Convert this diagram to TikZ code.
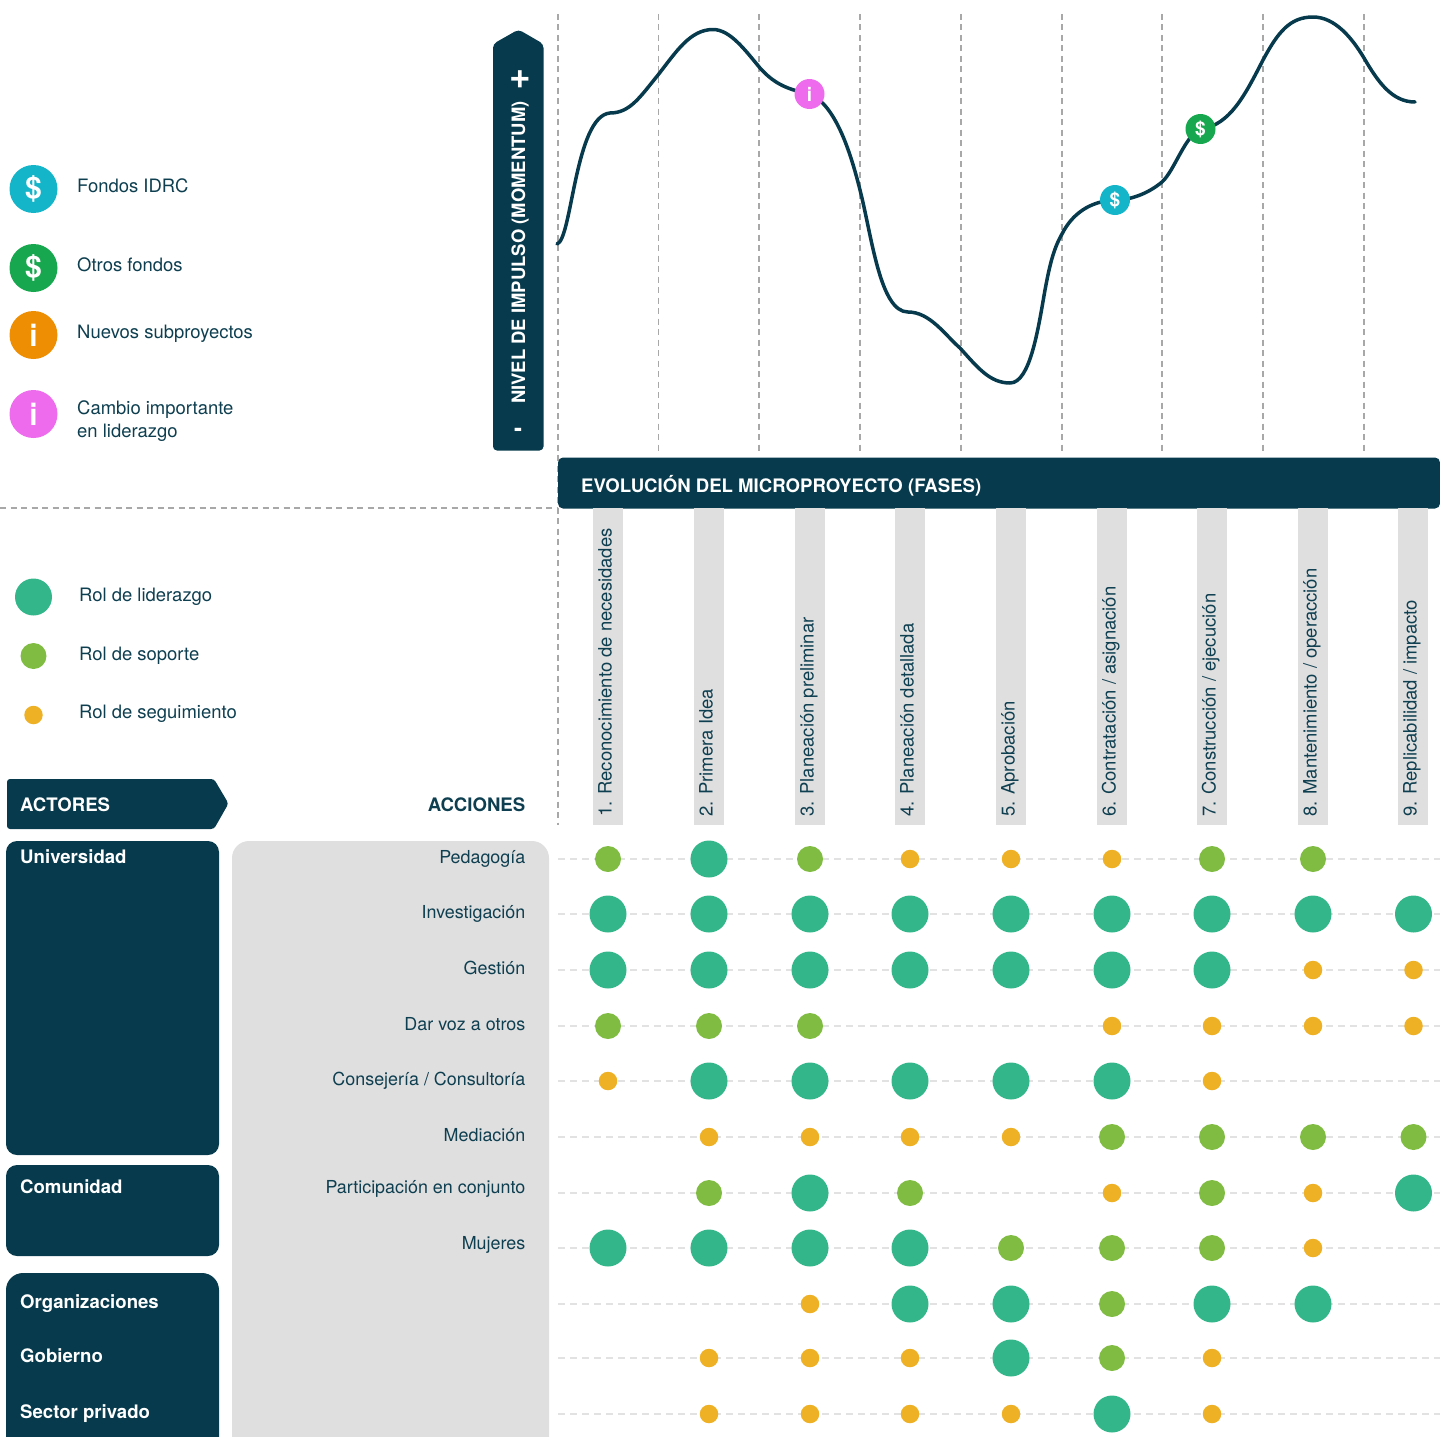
\documentclass[tikz,border=0pt]{standalone}
\usepackage{fontspec}
\setmainfont{TeX Gyre Heros}
\usetikzlibrary{shapes.geometric}
\definecolor{navy}{HTML}{063A4C}
\definecolor{ink}{HTML}{0E3F50}
\definecolor{pale}{HTML}{E0DFE0}
\definecolor{rowdash}{HTML}{E2E2E2}
\definecolor{phasedash}{HTML}{A8A8A8}
\definecolor{cyanfund}{HTML}{14B5C9}
\definecolor{greenfund}{HTML}{17A84F}
\definecolor{orangenew}{HTML}{EE8E02}
\definecolor{pinkchange}{HTML}{EE6BEE}
\definecolor{lead}{HTML}{32B68A}
\definecolor{support}{HTML}{7FBC41}
\definecolor{follow}{HTML}{EEB024}
\tikzset{
  body/.style={font=\fontsize{18.45}{23}\selectfont,text=ink,inner sep=0pt},
  bodyleft/.style={body,anchor=base west,align=left},
  bodyright/.style={body,anchor=base east},
  rowlabel/.style={body,anchor=base east,font=\fontsize{17.9}{22}\selectfont},
  head/.style={font=\fontsize{18.6}{22}\selectfont\bfseries,text=white,inner sep=0pt,anchor=base west},
  phaselabel/.style={body,rotate=90,anchor=base west},
  panel/.style={fill=navy,draw=none,inner sep=0pt,rounded corners=11pt},
  greypanel/.style={fill=pale,draw=none,inner sep=0pt,rounded corners=17pt},
  strip/.style={fill=pale,draw=none,inner sep=0pt,minimum width=30pt,minimum height=317pt},
  bigicon/.style={circle,draw=none,inner sep=0pt,minimum size=48pt,text=white,font=\fontsize{30}{30}\selectfont\bfseries},
  smallicon/.style={circle,draw=none,inner sep=0pt,minimum size=30pt,text=white,font=\fontsize{19}{19}\selectfont\bfseries},
  L/.style={circle,fill=lead,draw=none,inner sep=0pt,minimum size=37pt},
  M/.style={circle,fill=support,draw=none,inner sep=0pt,minimum size=26pt},
  S/.style={circle,fill=follow,draw=none,inner sep=0pt,minimum size=18.5pt},
  phaseline/.style={draw=phasedash,line width=1.7pt,dash pattern=on 6pt off 4.5pt},
  rowline/.style={draw=rowdash,line width=2pt,dash pattern=on 6.5pt off 5.5pt},
}
\begin{document}
\begin{tikzpicture}[x=1pt,y=-1pt]
\useasboundingbox (0,0) rectangle (1440,1437);
\clip (0,0) rectangle (1440,1437);
% guide lines
\foreach \n/\x/\yb in {a/558/825,b/658.5/452,c/759/452,d/860/452,e/961/452,f/1062/452,g/1162/452,h/1263/452,i/1364/452}{
  \coordinate (vt\n) at (\x,14);
  \coordinate (vb\n) at (\x,\yb);
  \draw[phaseline] (vt\n) -- (vb\n);
}
\coordinate (hl) at (0,508);
\coordinate (hr) at (558,508);
\draw[phaseline] (hl) -- (hr);
% momentum curve
\draw[navy,line width=3.5pt,line cap=round,line join=round]
 (557,244) .. controls (572,240) and (575,116) .. (610,113)
 .. controls (630,113) and (640,97) .. (658,75)
 .. controls (676,52) and (690,29.5) .. (713,29.5)
 .. controls (730,29.5) and (745,50) .. (760,68)
 .. controls (775,85) and (790,90) .. (810,94)
 .. controls (835,105) and (850,150) .. (860,190)
 .. controls (872,237) and (880,312) .. (908,312)
 .. controls (930,312) and (945,335) .. (960,348)
 .. controls (978,368) and (990,383) .. (1010,383)
 .. controls (1030,383) and (1038,330) .. (1045,290)
 .. controls (1050,263) and (1054,248) .. (1062,234)
 .. controls (1072,214) and (1090,201) .. (1115,200)
 .. controls (1133,200) and (1150,192) .. (1162,182)
 .. controls (1175,170) and (1185,135) .. (1201,129)
 .. controls (1230,125) and (1245,95) .. (1263,60)
 .. controls (1278,32) and (1290,17) .. (1313,17)
 .. controls (1335,17) and (1352,38) .. (1364,58)
 .. controls (1378,82) and (1392,102) .. (1415,102);
\node[smallicon,fill=pinkchange] (c1) at (809.5,94) {i};
\node[smallicon,fill=cyanfund] (c2) at (1115,200) {\$};
\node[smallicon,fill=greenfund] (c3) at (1200.5,129) {\$};
% momentum arrow
\fill[navy,rounded corners=4pt] (493,450.5) -- (493,44) -- (518.5,29.5) -- (543.5,44) -- (543.5,450.5) -- cycle;
\node[head,rotate=90,font=\fontsize{18.45}{22}\selectfont\bfseries] (mom) at (525,404) {NIVEL DE IMPULSO (MOMENTUM)};
\node[text=white,inner sep=0pt,font=\fontsize{37}{37}\selectfont\bfseries] (plus) at (520,79.5) {+};
\node[text=white,inner sep=0pt,font=\fontsize{24}{24}\selectfont\bfseries] (minus) at (518,432) {-};
% phases bar
\node[fill=navy,draw=none,inner sep=0pt,rounded corners=5pt,minimum width=882pt,minimum height=51pt] (bar) at (999,483) {};
\node[head] (bartext) at (581,492) {EVOLUCIÓN DEL MICROPROYECTO (FASES)};
% strips and labels
\foreach \n/\x/\t in {1/608/{1. Reconocimiento de necesidades},2/709/{2. Primera Idea},3/810/{3. Planeación preliminar},4/910/{4. Planeación detallada},5/1011/{5. Aprobación},6/1112/{6. Contratación / asignación},7/1212/{7. Construcción / ejecución},8/1313/{8. Mantenimiento / operacción},9/1413/{9. Replicabilidad / impacto}}{
  \node[strip] (s\n) at (\x,666.5) {};
  \node[phaselabel] (p\n) at (\x+3.5,817) {\t};
}
% legends
\node[bigicon,fill=cyanfund] (l1) at (33.5,189) {\$};
\node[bigicon,fill=greenfund] (l2) at (33.5,268) {\$};
\node[bigicon,fill=orangenew] (l3) at (33.5,335) {i};
\node[bigicon,fill=pinkchange] (l4) at (33.5,414) {i};
\node[bodyleft] (lt1) at (77,192) {Fondos IDRC};
\node[bodyleft] (lt2) at (77,271) {Otros fondos};
\node[bodyleft] (lt3) at (77,338) {Nuevos subproyectos};
\node[bodyleft] (lt4) at (77,437) {Cambio importante\\en liderazgo};
\node[L] (r1) at (33.5,597) {};
\node[M] (r2) at (33.5,656) {};
\node[S] (r3) at (33.5,715) {};
\node[bodyleft] (rt1) at (79,601) {Rol de liderazgo};
\node[bodyleft] (rt2) at (79,660) {Rol de soporte};
\node[bodyleft] (rt3) at (79,718) {Rol de seguimiento};
% actors
\fill[navy,rounded corners=3pt] (7,779) -- (214,779) -- (228.5,803.5) -- (214,829) -- (7,829) -- cycle;
\node[head] (actores) at (20,811) {ACTORES};
\node[bodyright,font=\fontsize{18.6}{22}\selectfont\bfseries] (acciones) at (525.5,811) {ACCIONES};
\node[panel,minimum width=213pt,minimum height=314pt] (uni) at (112.5,998) {};
\node[panel,minimum width=213pt,minimum height=91pt] (com) at (112.5,1210.5) {};
\node[panel,minimum width=213pt,minimum height=200pt,rounded corners=17pt] (org) at (112.5,1373) {};
\node[greypanel,minimum width=317pt,minimum height=640pt] (acc) at (390.5,1161) {};
\node[head] (a1) at (20,863.5) {Universidad};
\node[head] (a2) at (20,1193) {Comunidad};
\node[head] (a3) at (20,1308) {Organizaciones};
\node[head] (a4) at (20,1362) {Gobierno};
\node[head] (a5) at (20,1418) {Sector privado};
\foreach \n/\y/\t in {1/863.5/{Pedagogía},2/918.5/{Investigación},3/974/{Gestión},4/1030/{Dar voz a otros},5/1085.5/{Consejería / Consultoría},6/1141/{Mediación},7/1193.5/{Participación en conjunto},8/1249/{Mujeres}}{
  \node[rowlabel] (t\n) at (525.5,\y) {\t};
}
% matrix rows
\foreach \n/\y in {1/859,2/914,3/970,4/1026,5/1081,6/1137,7/1193,8/1248,9/1304,10/1358,11/1414}{
  \coordinate (rl\n) at (558,\y);
  \coordinate (rr\n) at (1440,\y);
  \draw[rowline] (rl\n) -- (rr\n);
}
\foreach \n/\y/\list in {
 1/859/{1/608/M,2/709/L,3/810/M,4/910/S,5/1011/S,6/1112/S,7/1212/M,8/1313/M},
 2/914/{1/608/L,2/709/L,3/810/L,4/910/L,5/1011/L,6/1112/L,7/1212/L,8/1313/L,9/1413.5/L},
 3/970/{1/608/L,2/709/L,3/810/L,4/910/L,5/1011/L,6/1112/L,7/1212/L,8/1313/S,9/1413.5/S},
 4/1026/{1/608/M,2/709/M,3/810/M,6/1112/S,7/1212/S,8/1313/S,9/1413.5/S},
 5/1081/{1/608/S,2/709/L,3/810/L,4/910/L,5/1011/L,6/1112/L,7/1212/S},
 6/1137/{2/709/S,3/810/S,4/910/S,5/1011/S,6/1112/M,7/1212/M,8/1313/M,9/1413.5/M},
 7/1193/{2/709/M,3/810/L,4/910/M,6/1112/S,7/1212/M,8/1313/S,9/1413.5/L},
 8/1248/{1/608/L,2/709/L,3/810/L,4/910/L,5/1011/M,6/1112/M,7/1212/M,8/1313/S},
 9/1304/{3/810/S,4/910/L,5/1011/L,6/1112/M,7/1212/L,8/1313/L},
 10/1358/{2/709/S,3/810/S,4/910/S,5/1011/L,6/1112/M,7/1212/S},
 11/1414/{2/709/S,3/810/S,4/910/S,5/1011/S,6/1112/L,7/1212/S}}{
  \foreach \c/\x/\k in \list {
    \node[\k] (d\n-\c) at (\x,\y) {};
  }
}
\end{tikzpicture}
\end{document}
